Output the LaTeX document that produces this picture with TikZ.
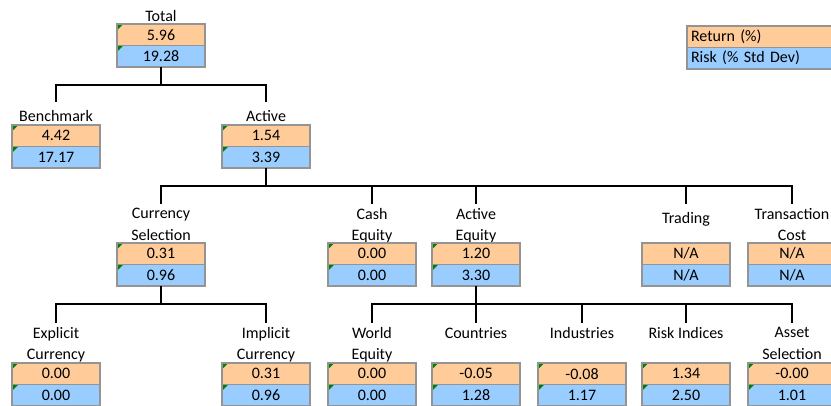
\documentclass[tikz,border=0pt]{standalone}
\usepackage{fontspec}
\setmainfont{Carlito}
\usetikzlibrary{positioning}

\definecolor{retfill}{HTML}{FFCC99}
\definecolor{riskfill}{HTML}{99CCFF}
\definecolor{flaggreen}{HTML}{008000}

\tikzset{
    cell/.style={draw=black!42, line width=1.1pt, minimum width=66pt, minimum height=16.1pt,
        inner sep=0pt, outer sep=0pt, font=\fontsize{12}{14}\selectfont},
    retcell/.style={cell, fill=retfill, anchor=north},
    riskcell/.style={cell, fill=riskfill},
    flag/.style={path picture={\fill[flaggreen] (path picture bounding box.north west)
        -- ++(4.8pt,0) -- ++(-4.8pt,-4.8pt) -- cycle;}},
    lbl/.style={font=\fontsize{12}{16.3}\selectfont, align=center, anchor=north,
        inner xsep=0pt, inner ysep=2.8pt},
    lbllow/.style={lbl, inner ysep=5.8pt},
    link/.style={line width=1.5pt},
}

\begin{document}
\begin{tikzpicture}[x=0.75pt, y=-0.75pt]
    \useasboundingbox (0,0) rectangle (831,405);
    \clip (0,0) rectangle (831,405);

    % legend
    \node[cell, fill=retfill, anchor=north west, text width=140pt, inner xsep=3pt, align=left] (leg-r) at (687,26) {Return (\%)};
    \node[cell, fill=riskfill, text width=140pt, inner xsep=3pt, align=left, below=0pt of leg-r] (leg-s) {Risk (\% Std Dev)};

    % level 1
    \node[lbl, anchor=center] (tot-l) at (161,16) {Total};
    \node[retcell, flag] (tot-r) at (161,24) {5.96};
    \node[riskcell, flag, below=0pt of tot-r] (tot-s) {19.28};

    % level 2
    \node[lbllow] (bench-l) at (56,102) {Benchmark};
    \node[retcell, flag] (bench-r) at (56,125) {4.42};
    \node[riskcell, flag, below=0pt of bench-r] (bench-s) {17.17};

    \node[lbllow] (act-l) at (266,102) {Active};
    \node[retcell, flag] (act-r) at (266,125) {1.54};
    \node[riskcell, flag, below=0pt of act-r] (act-s) {3.39};

    % level 3
    \node[lbl] (cur-l) at (161,204) {Currency\\Selection};
    \node[retcell, flag] (cur-r) at (161,243) {0.31};
    \node[riskcell, flag, below=0pt of cur-r] (cur-s) {0.96};

    \node[lbl] (cash-l) at (372,204) {Cash\\Equity};
    \node[retcell, flag] (cash-r) at (372,243) {0.00};
    \node[riskcell, flag, below=0pt of cash-r] (cash-s) {0.00};

    \node[lbl] (aeq-l) at (476,204) {Active\\Equity};
    \node[retcell, flag] (aeq-r) at (476,243) {1.20};
    \node[riskcell, flag, below=0pt of aeq-r] (aeq-s) {3.30};

    \node[lbllow] (trd-l) at (686,204) {Trading};
    \node[retcell] (trd-r) at (686,243) {N/A};
    \node[riskcell, below=0pt of trd-r] (trd-s) {N/A};

    \node[lbl] (tc-l) at (792,204) {Transaction\\Cost};
    \node[retcell] (tc-r) at (792,243) {N/A};
    \node[riskcell, below=0pt of tc-r] (tc-s) {N/A};

    % level 4
    \node[lbl] (expl-l) at (56,323) {Explicit\\Currency};
    \node[retcell, flag] (expl-r) at (56,363) {0.00};
    \node[riskcell, flag, below=0pt of expl-r] (expl-s) {0.00};

    \node[lbl] (impl-l) at (266,323) {Implicit\\Currency};
    \node[retcell, flag] (impl-r) at (266,363) {0.31};
    \node[riskcell, flag, below=0pt of impl-r] (impl-s) {0.96};

    \node[lbl] (weq-l) at (372,323) {World\\Equity};
    \node[retcell, flag] (weq-r) at (372,363) {0.00};
    \node[riskcell, flag, below=0pt of weq-r] (weq-s) {0.00};

    \node[lbl] (ctry-l) at (476,323) {Countries};
    \node[retcell, flag] (ctry-r) at (476,363) {-0.05};
    \node[riskcell, flag, below=0pt of ctry-r] (ctry-s) {1.28};

    \node[lbl] (ind-l) at (582,323) {Industries};
    \node[retcell, flag] (ind-r) at (582,363) {-0.08};
    \node[riskcell, flag, below=0pt of ind-r] (ind-s) {1.17};

    \node[lbl] (risk-l) at (686,323) {Risk Indices};
    \node[retcell, flag] (risk-r) at (686,363) {1.34};
    \node[riskcell, flag, below=0pt of risk-r] (risk-s) {2.50};

    \node[lbl] (asel-l) at (792,323) {Asset\\Selection};
    \node[retcell, flag] (asel-r) at (792,363) {-0.00};
    \node[riskcell, flag, below=0pt of asel-r] (asel-s) {1.01};

    % connectors
    \draw[link] (tot-s.south) -- ++(0,18) -| (bench-l.north);
    \draw[link] (tot-s.south) -- ++(0,18) -| (act-l.north);

    \draw[link] (act-s.south) -- ++(0,18) -| (cur-l.north);
    \draw[link] (act-s.south) -- ++(0,18) -| (cash-l.north);
    \draw[link] (act-s.south) -- ++(0,18) -| (aeq-l.north);
    \draw[link] (act-s.south) -- ++(0,18) -| (trd-l.north);
    \draw[link] (act-s.south) -- ++(0,18) -| (tc-l.north);

    \draw[link] (cur-s.south) -- ++(0,18) -| (expl-l.north);
    \draw[link] (cur-s.south) -- ++(0,18) -| (impl-l.north);

    \draw[link] (aeq-s.south) -- ++(0,18) -| (weq-l.north);
    \draw[link] (aeq-s.south) -- ++(0,18) -| (ctry-l.north);
    \draw[link] (aeq-s.south) -- ++(0,18) -| (ind-l.north);
    \draw[link] (aeq-s.south) -- ++(0,18) -| (risk-l.north);
    \draw[link] (aeq-s.south) -- ++(0,18) -| (asel-l.north);
\end{tikzpicture}
\end{document}
